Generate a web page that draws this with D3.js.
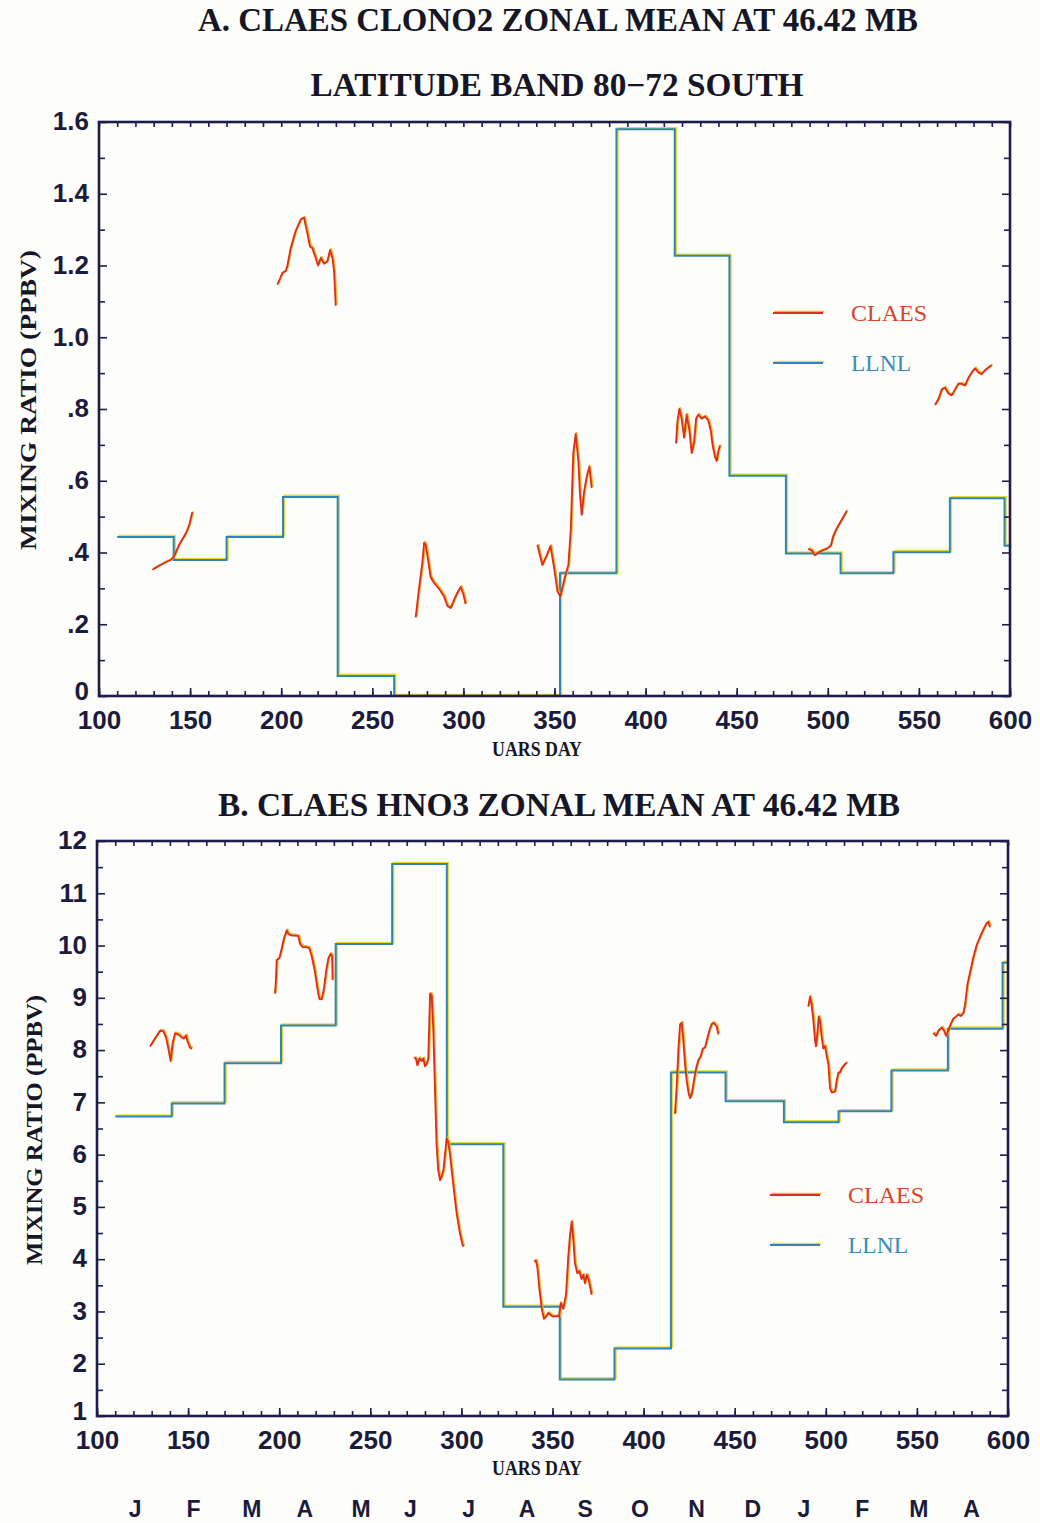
<!DOCTYPE html>
<html>
<head>
<meta charset="utf-8">
<script src="https://cdn.jsdelivr.net/npm/d3@7"></script>
<style>
  body { margin: 0; background: #fdfdfb; }
  .tick text { font-family: "Liberation Sans", Arial, sans-serif; font-weight: bold; font-size: 26px; fill: #1b1b3c; }
  .tick line { stroke: #1d1d4c; stroke-width: 1.6; }
  .serif { font-family: "Liberation Serif", "DejaVu Serif", serif; font-weight: bold; fill: #161626; }
</style>
</head>
<body>
<svg id="chart" width="1040" height="1523"></svg>
<script>
// ---------- data (UARS day, ppbv) ----------
// panel A: ClONO2, monthly LLNL steps (value i holds from day i to day i+1)
var llnlADays = [110, 141, 170, 201, 231, 262, 353, 384, 416, 446, 477, 507, 536, 567, 597, 600];
var llnlAVals = [0.443, 0.379, 0.443, 0.555, 0.056, 0, 0.342, 1.58, 1.227, 0.614, 0.397, 0.342, 0.401, 0.551, 0.419];

var claesA1 = [[129.3,0.352],[133.8,0.365],[137.5,0.375],[139.3,0.379],[141.2,0.389],[143.9,0.421],[147.6,0.453],[149.4,0.475],[151.2,0.512]];
var claesA2 = [[197.9,1.147],[199.3,1.163],[200.6,1.179],[202.4,1.184],[203.4,1.2],[205.2,1.248],[207.9,1.296],[210.7,1.328],[212.5,1.333],[214.3,1.291],[215.8,1.253],[217.1,1.248],[218.9,1.221],[220.2,1.2],[221.7,1.221],[223.5,1.205],[225.3,1.211],[226.8,1.243],[228.1,1.221],[229,1.184],[229.9,1.088]];
var claesA3 = [[273.8,0.219],[275.6,0.299],[277.5,0.373],[278.4,0.427],[279.3,0.421],[280.6,0.379],[282,0.331],[283.9,0.315],[286.6,0.299],[289.4,0.277],[291.2,0.251],[293,0.245],[294.8,0.267],[296.7,0.288],[298.5,0.304],[300,0.283],[301.2,0.256]];
var claesA4 = [[340.6,0.421],[343.3,0.365],[345.5,0.39],[347.8,0.418],[349.9,0.353],[351.6,0.292],[353.2,0.278],[355.8,0.333],[357.6,0.365],[358.9,0.462],[360.3,0.677],[361.6,0.73],[363.1,0.655],[364,0.559],[364.9,0.505],[366.2,0.569],[367.7,0.612],[369.1,0.639],[370.4,0.58]];
var claesA5 = [[416.7,0.704],[417.4,0.763],[418.5,0.8],[419.8,0.773],[421.1,0.72],[422.5,0.784],[424,0.741],[425.3,0.677],[426.6,0.709],[427.7,0.773],[428.9,0.784],[430.8,0.773],[432.6,0.779],[434.4,0.768],[435.7,0.741],[436.8,0.698],[438.1,0.666],[439,0.655],[439.9,0.682],[440.8,0.698]];
var claesA6 = [[489.3,0.41],[491.1,0.406],[492.9,0.392],[494.8,0.4],[497.2,0.406],[499.4,0.41],[501.6,0.419],[503,0.446],[504.9,0.467],[506.7,0.483],[508.5,0.499],[510.4,0.516]];
var claesA7 = [[558.8,0.811],[560.7,0.827],[562.5,0.854],[564.3,0.859],[566.2,0.843],[568,0.838],[569.8,0.854],[571.6,0.87],[573.5,0.87],[575.3,0.865],[577.1,0.886],[579,0.902],[580.8,0.913],[582.6,0.902],[584.4,0.897],[586.3,0.908],[588.1,0.915],[589.9,0.922]];

// panel B: HNO3
var llnlBDays = [110, 141, 170, 201, 231, 262, 292, 323, 354, 384, 415, 445, 477, 507, 536, 567, 597, 600];
var llnlBVals = [6.73, 6.98, 7.75, 8.47, 10.03, 11.56, 6.2, 3.09, 1.7, 2.29, 7.57, 7.02, 6.62, 6.83, 7.61, 8.41, 9.67];

var claesB1 = [[129.1,8.07],[131.8,8.22],[134.6,8.37],[136.4,8.36],[137.9,8.24],[139.2,8.02],[140.4,7.79],[141.5,8.13],[142.8,8.32],[144.6,8.3],[146.5,8.24],[147.7,8.22],[148.8,8.28],[149.6,8.17],[151,8.05],[152,8.02]];
var claesB2 = [[197.7,9.08],[198.2,9.34],[198.6,9.72],[200.1,9.76],[201.4,9.95],[202.6,10.14],[204.1,10.29],[205,10.22],[206.8,10.19],[208.7,10.19],[210.5,10.18],[211.4,10.03],[212.9,9.97],[214.7,9.97],[216.5,9.95],[217.8,9.8],[219.6,9.5],[220.9,9.19],[222,8.98],[223.3,8.97],[224.6,9.19],[225.7,9.5],[227,9.76],[228.2,9.84],[229,9.8],[229.3,9.34]];
var claesB3 = [[274,7.86],[275.1,7.83],[275.8,7.71],[276.9,7.84],[278.2,7.79],[279.1,7.84],[280,7.69],[280.9,7.74],[281.8,7.83],[282.8,9.08],[283.7,9.04],[284.6,8.36],[285.5,7.22],[286.4,6.16],[287.3,5.7],[288.3,5.51],[289.2,5.59],[290.1,5.7],[291,6.01],[291.9,6.31],[292.8,6.23],[293.7,6.01],[295.6,5.4],[297.4,4.87],[299.2,4.49],[300.7,4.26],[301.4,4.25]];
var claesB4 = [[339.8,3.96],[340.9,3.97],[341.7,3.84],[342.8,3.43],[344.1,3.05],[345.3,2.86],[346.4,2.9],[347.7,2.97],[349,2.93],[350.5,2.9],[352.3,2.91],[353.6,2.9],[354.5,3.16],[355.9,3.05],[357.4,3.32],[358.7,4.08],[359.6,4.46],[360.5,4.72],[361.4,4.38],[362.3,3.92],[363.6,3.73],[364.7,3.77],[365.9,3.62],[366.9,3.7],[367.8,3.54],[368.8,3.7],[369.7,3.62],[370.6,3.47],[371.5,3.32]];
var claesB5 = [[417.2,6.78],[418.1,7.27],[419.1,8.03],[420,8.49],[420.9,8.52],[421.8,8.18],[422.7,7.73],[423.6,7.42],[424.6,7.19],[425.5,7.08],[426.4,7.16],[427.3,7.35],[428.2,7.54],[429.1,7.69],[430,7.8],[431.3,7.88],[432.4,8.02],[433.7,8.05],[434.6,8.18],[435.5,8.3],[436.4,8.41],[437.4,8.5],[438.3,8.52],[439.2,8.49],[440.1,8.45],[441,8.3]];
var claesB6 = [[490.4,8.83],[491.3,9.02],[492.2,8.87],[493.2,8.56],[494.1,8.18],[494.6,8.07],[495.4,8.33],[496.1,8.64],[496.8,8.56],[497.7,8.26],[498.6,8.03],[499.6,8.07],[500.5,7.88],[501.4,7.73],[502.3,7.27],[503.2,7.19],[504.1,7.19],[505.1,7.21],[506,7.42],[506.9,7.57],[507.8,7.57],[508.7,7.65],[510,7.71],[511.5,7.76]];
var claesB7 = [[559,8.33],[560.5,8.27],[561.8,8.37],[563.6,8.43],[564.9,8.37],[566,8.27],[567.2,8.37],[568.5,8.49],[570,8.6],[571.5,8.64],[572.7,8.68],[574,8.65],[575.5,8.71],[576.4,8.87],[577.7,9.25],[579.1,9.48],[581,9.78],[582.8,10.01],[584.6,10.16],[586.5,10.31],[588.3,10.43],[589.2,10.45],[590.1,10.35]];

var xTicks = d3.range(100, 601, 50);
var months = ["J","F","M","A","M","J","J","A","S","O","N","D","J","F","M","A"];
var monthDays = [121, 153, 185, 214, 245, 272, 304, 336, 368, 398, 429, 460, 488, 520, 551, 580];

var navy = "#1d1d4c";
var svg = d3.select("#chart");

function stepPoints(days, vals) {
  var pts = vals.map(function(v, i) { return [days[i], v]; });
  pts.push([days[days.length - 1], vals[vals.length - 1]]);
  return pts;
}

function drawPanel(p) {
  var x = d3.scaleLinear().domain([100, 600]).range([p.left, p.right]);
  var y = d3.scaleLinear().domain(p.yDomain).range([p.bottom, p.top]);
  var g = svg.append("g");

  var line = d3.line().x(function(d) { return x(d[0]); }).y(function(d) { return y(d[1]); });
  var step = d3.line().curve(d3.curveStepAfter).x(function(d) { return x(d[0]); }).y(function(d) { return y(d[1]); });

  // LLNL steps: yellow misregistered edge under teal-blue line
  var llnl = stepPoints(p.llnlDays, p.llnlVals);
  g.append("path").attr("d", step(llnl)).attr("transform", "translate(1.3,-1.3)")
    .attr("fill", "none").attr("stroke", "#e4dc3c").attr("stroke-width", 2);
  g.append("path").attr("d", step(llnl))
    .attr("fill", "none").attr("stroke", "#2f86b6").attr("stroke-width", 2);

  // CLAES segments
  p.claes.forEach(function(seg) {
    g.append("path").attr("d", line(seg)).attr("transform", "translate(0.9,-0.9)")
      .attr("fill", "none").attr("stroke", "#f2b232").attr("stroke-width", 2.2).attr("stroke-linejoin", "round");
    g.append("path").attr("d", line(seg))
      .attr("fill", "none").attr("stroke", "#dc2e1c").attr("stroke-width", 1.8).attr("stroke-linejoin", "round");
  });

  // axes, ticks pointing inward on all four sides
  function noDomain(a) { a.select(".domain").remove(); }
  g.append("g").attr("transform", "translate(0," + p.bottom + ")")
    .call(d3.axisBottom(x).tickValues(d3.range(100, 601, 10)).tickSize(-5).tickFormat(""))
    .call(noDomain);
  g.append("g").attr("transform", "translate(0," + p.bottom + ")")
    .call(d3.axisBottom(x).tickValues(xTicks).tickSize(-8).tickPadding(15).tickFormat(d3.format("d")))
    .call(noDomain);
  g.append("g").attr("transform", "translate(0," + p.top + ")")
    .call(d3.axisTop(x).tickValues(d3.range(100, 601, 10)).tickSize(-5).tickFormat(""))
    .call(noDomain);
  g.append("g").attr("transform", "translate(" + p.left + ",0)")
    .call(d3.axisLeft(y).tickValues(p.yMinor).tickSize(-6).tickFormat(""))
    .call(noDomain);
  g.append("g").attr("transform", "translate(" + p.left + ",0)")
    .call(d3.axisLeft(y).tickValues(p.yMajor).tickSize(-8).tickPadding(10).tickFormat(p.yFormat))
    .call(noDomain)
    .call(function(a) {
      // lowest label sits a little higher so it clears the 100 below it
      a.selectAll(".tick text").attr("dy", function(d, i) { return i === 0 ? "0.12em" : "0.3em"; });
    });
  g.append("g").attr("transform", "translate(" + p.right + ",0)")
    .call(d3.axisRight(y).tickValues(p.yMinor).tickSize(-6).tickFormat(""))
    .call(noDomain);
  g.append("g").attr("transform", "translate(" + p.right + ",0)")
    .call(d3.axisRight(y).tickValues(p.yMajor).tickSize(-8).tickFormat(""))
    .call(noDomain);

  g.append("rect").attr("x", p.left).attr("y", p.top)
    .attr("width", p.right - p.left).attr("height", p.bottom - p.top)
    .attr("fill", "none").attr("stroke", navy).attr("stroke-width", 2.6);

  // axis titles
  g.append("text").attr("class", "serif").attr("x", p.xTitle[0]).attr("y", p.xTitle[1])
    .attr("text-anchor", "middle").attr("font-size", 21)
    .attr("textLength", 90).attr("lengthAdjust", "spacingAndGlyphs").text("UARS DAY");
  g.append("text").attr("class", "serif")
    .attr("transform", "translate(" + p.yTitle[0] + "," + p.yTitle[1] + ") rotate(-90)")
    .attr("text-anchor", "middle").attr("font-size", 23)
    .attr("textLength", p.yTitle[2]).attr("lengthAdjust", "spacingAndGlyphs").text("MIXING RATIO (PPBV)");

  // legend
  var lg = g.append("g");
  [["CLAES", "#dc2e1c", "#d9452b", 0], ["LLNL", "#2f86b6", "#3b8db3", 50]].forEach(function(e) {
    var ly = p.legend[1] + e[3];
    lg.append("line").attr("x1", p.legend[0] + 1.3).attr("x2", p.legend[0] + 50 + 1.3)
      .attr("y1", ly - 1.3).attr("y2", ly - 1.3).attr("stroke", e[0] === "LLNL" ? "#e4dc3c" : "#f2b232").attr("stroke-width", 2);
    lg.append("line").attr("x1", p.legend[0]).attr("x2", p.legend[0] + 50)
      .attr("y1", ly).attr("y2", ly).attr("stroke", e[1]).attr("stroke-width", 2);
    lg.append("text").attr("x", p.legend[0] + 78).attr("y", ly + 8)
      .attr("font-family", "Liberation Serif, serif").attr("font-size", 24)
      .attr("textLength", e[0] === "CLAES" ? 76 : 60).attr("lengthAdjust", "spacingAndGlyphs")
      .attr("fill", e[2]).text(e[0]);
  });
  return x;
}

drawPanel({
  left: 99, right: 1010, top: 122, bottom: 696,
  yDomain: [0, 1.6],
  yMajor: d3.range(0, 1.61, 0.2), yMinor: d3.range(0.1, 1.6, 0.2),
  yFormat: function(d) { return d < 0.01 ? "0" : d < 0.99 ? d.toFixed(1).slice(1) : d.toFixed(1); },
  llnlDays: llnlADays, llnlVals: llnlAVals,
  claes: [claesA1, claesA2, claesA3, claesA4, claesA5, claesA6, claesA7],
  xTitle: [537, 756], yTitle: [36, 400, 300], legend: [773, 313]
});

var xB = drawPanel({
  left: 97, right: 1008, top: 841, bottom: 1416,
  yDomain: [1, 12],
  yMajor: d3.range(1, 12.1, 1), yMinor: d3.range(1.5, 12, 1),
  yFormat: d3.format("d"),
  llnlDays: llnlBDays, llnlVals: llnlBVals,
  claes: [claesB1, claesB2, claesB3, claesB4, claesB5, claesB6, claesB7],
  xTitle: [537, 1475], yTitle: [42, 1130, 270], legend: [770, 1195]
});

// titles
svg.append("text").attr("class", "serif").attr("x", 558).attr("y", 31).attr("text-anchor", "middle")
  .attr("font-size", 33).attr("textLength", 720).attr("lengthAdjust", "spacingAndGlyphs")
  .text("A. CLAES CLONO2 ZONAL MEAN AT 46.42 MB");
svg.append("text").attr("class", "serif").attr("x", 557).attr("y", 96).attr("text-anchor", "middle")
  .attr("font-size", 33).attr("textLength", 493).attr("lengthAdjust", "spacingAndGlyphs")
  .text("LATITUDE BAND 80\u221272 SOUTH");
svg.append("text").attr("class", "serif").attr("x", 559).attr("y", 816).attr("text-anchor", "middle")
  .attr("font-size", 33).attr("textLength", 682).attr("lengthAdjust", "spacingAndGlyphs")
  .text("B. CLAES HNO3 ZONAL MEAN AT 46.42 MB");

// month letters under panel B
svg.append("g").selectAll("text").data(months).join("text")
  .attr("x", function(d, i) { return xB(monthDays[i]); }).attr("y", 1517)
  .attr("text-anchor", "middle")
  .attr("font-family", "Liberation Sans, Arial, sans-serif").attr("font-weight", "bold")
  .attr("font-size", 23).attr("fill", "#1b1b3c")
  .text(function(d) { return d; });
</script>
</body>
</html>
